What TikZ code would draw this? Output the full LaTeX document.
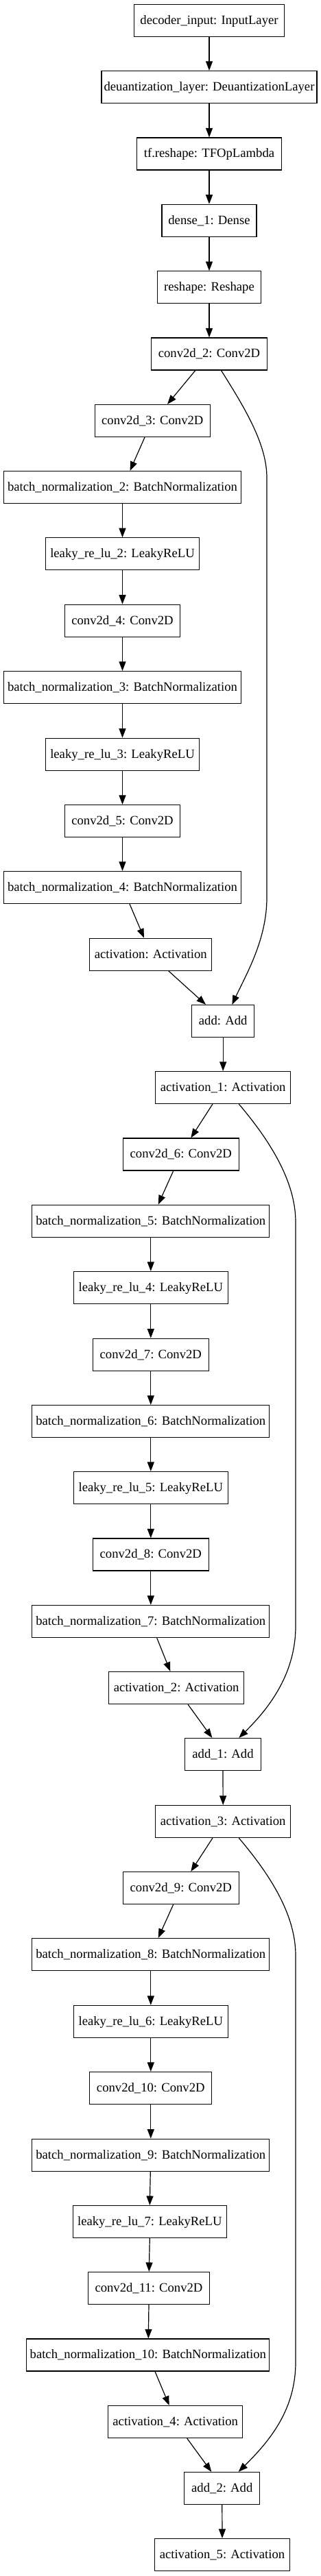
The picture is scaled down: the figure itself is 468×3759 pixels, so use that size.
\documentclass[tikz,border=0pt]{standalone}
\usepackage{fontspec}
\usetikzlibrary{arrows.meta}
\newfontfamily\laytimes{Liberation Serif}
\newcommand\layfont{\laytimes\fontsize{18.67pt}{22pt}\selectfont}
\tikzset{
  layer/.style={draw=black, line width=1.2pt, minimum height=47pt, inner xsep=2pt, inner ysep=0pt,
                text height=14pt, text depth=3.4pt, font=\layfont},
  edge/.style={-{Triangle[length=13.5pt,width=10pt]}, line width=1.2pt},
}
\begin{document}
\begin{tikzpicture}[x=1pt,y=-1pt]
\useasboundingbox[fill=white] (0,0) rectangle (468,3759);
% nodes
\node[layer, minimum width=219pt] (inp)   at (305,29.7)   {decoder\_input: InputLayer};
\node[layer, minimum width=314pt] (deq)   at (305,127)    {deuantization\_layer: DeuantizationLayer};
\node[layer, minimum width=211pt] (tfr)   at (305,224.5)  {tf.reshape: TFOpLambda};
\node[layer, minimum width=138pt] (dense) at (305,321.8)  {dense\_1: Dense};
\node[layer, minimum width=151pt] (resh)  at (305,419.3)  {reshape: Reshape};
\node[layer, minimum width=168.7pt] (c2)  at (305,516.5)  {conv2d\_2: Conv2D};
\node[layer, minimum width=168.3pt] (c3)  at (222.3,614)  {conv2d\_3: Conv2D};
\node[layer, minimum width=346.3pt] (bn2)  at (178.5,711)  {batch\_normalization\_2: BatchNormalization};
\node[layer, minimum width=224.6pt] (lr2)  at (178.5,808.3) {leaky\_re\_lu\_2: LeakyReLU};
\node[layer, minimum width=168.6pt] (c4)   at (178.5,905.7) {conv2d\_4: Conv2D};
\node[layer, minimum width=346.3pt] (bn3)  at (178.5,1003)  {batch\_normalization\_3: BatchNormalization};
\node[layer, minimum width=224.6pt] (lr3)  at (178.5,1100.7) {leaky\_re\_lu\_3: LeakyReLU};
\node[layer, minimum width=168.6pt] (c5)   at (178.5,1198)  {conv2d\_5: Conv2D};
\node[layer, minimum width=346.3pt] (bn4)  at (178.5,1295)  {batch\_normalization\_4: BatchNormalization};
\node[layer, minimum width=178pt]   (act)  at (219.8,1392.7) {activation: Activation};
\node[layer, minimum width=91.3pt]  (add)  at (325.2,1490)  {add: Add};
\node[layer, minimum width=196.7pt] (act1) at (325.2,1587)  {activation\_1: Activation};
\node[layer, minimum width=168.7pt] (c6)   at (263.8,1684.5) {conv2d\_6: Conv2D};
\node[layer, minimum width=346pt]   (bn5)  at (219.8,1781.7) {batch\_normalization\_5: BatchNormalization};
\node[layer, minimum width=225pt]   (lr4)  at (219.8,1879)  {leaky\_re\_lu\_4: LeakyReLU};
\node[layer, minimum width=169pt]   (c7)   at (219.8,1976.7) {conv2d\_7: Conv2D};
\node[layer, minimum width=346pt]   (bn6)  at (219.8,2074)  {batch\_normalization\_6: BatchNormalization};
\node[layer, minimum width=225pt]   (lr5)  at (219.8,2171)  {leaky\_re\_lu\_5: LeakyReLU};
\node[layer, minimum width=169pt]   (c8)   at (219.8,2268.5) {conv2d\_8: Conv2D};
\node[layer, minimum width=346pt]   (bn7)  at (219.8,2366)  {batch\_normalization\_7: BatchNormalization};
\node[layer, minimum width=196.7pt] (act2) at (257.2,2463)  {activation\_2: Activation};
\node[layer, minimum width=110.4pt] (add1) at (325,2560)    {add\_1: Add};
\node[layer, minimum width=196.7pt] (act3) at (325.2,2658)  {activation\_3: Activation};
\node[layer, minimum width=168.7pt] (c9)   at (263.8,2755)  {conv2d\_9: Conv2D};
\node[layer, minimum width=346pt]   (bn8)  at (219.8,2852)  {batch\_normalization\_8: BatchNormalization};
\node[layer, minimum width=225pt]   (lr6)  at (219.8,2950)  {leaky\_re\_lu\_6: LeakyReLU};
\node[layer, minimum width=178pt]   (c10)  at (219.8,3047)  {conv2d\_10: Conv2D};
\node[layer, minimum width=346pt]   (bn9)  at (219.8,3144.7) {batch\_normalization\_9: BatchNormalization};
\node[layer, minimum width=224.3pt] (lr7)  at (218.3,3242)  {leaky\_re\_lu\_7: LeakyReLU};
\node[layer, minimum width=177.6pt] (c11)  at (217,3339)    {conv2d\_11: Conv2D};
\node[layer, minimum width=354pt]   (bn10) at (215.8,3436.5) {batch\_normalization\_10: BatchNormalization};
\node[layer, minimum width=196.3pt] (act4) at (255.7,3534)  {activation\_4: Activation};
\node[layer, minimum width=110pt]   (add2) at (323.8,3631)  {add\_2: Add};
\node[layer, minimum width=196.4pt] (act5) at (324,3728)    {activation\_5: Activation};
% straight edges
\draw[edge] (inp.south) -- (deq.north);
\draw[edge] (deq.south) -- (tfr.north);
\draw[edge] (tfr.south) -- (dense.north);
\draw[edge] (dense.south) -- (resh.north);
\draw[edge] (resh.south) -- (c2.north);
\draw[edge] ([xshift=-20.2pt]c2.south) -- ([xshift=21.7pt]c3.north);
\draw[edge] ([xshift=-11.3pt]c3.south) -- ([xshift=11pt]bn2.north);
\draw[edge] (bn2.south) -- (lr2.north);
\draw[edge] (lr2.south) -- (c4.north);
\draw[edge] (c4.south) -- (bn3.north);
\draw[edge] (bn3.south) -- (lr3.north);
\draw[edge] (lr3.south) -- (c5.north);
\draw[edge] (c5.south) -- (bn4.north);
\draw[edge] ([xshift=10.5pt]bn4.south) -- ([xshift=-9.8pt]act.north);
\draw[edge] ([xshift=25.9pt]act.south) -- ([xshift=-25.2pt]add.north);
\draw[edge] (add.south) -- (act1.north);
\draw[edge] ([xshift=-15.2pt]act1.south) -- ([xshift=14.5pt]c6.north);
\draw[edge] ([xshift=-11.1pt]c6.south) -- ([xshift=10.9pt]bn5.north);
\draw[edge] (bn5.south) -- (lr4.north);
\draw[edge] (lr4.south) -- (c7.north);
\draw[edge] (c7.south) -- (bn6.north);
\draw[edge] (bn6.south) -- (lr5.north);
\draw[edge] (lr5.south) -- (c8.north);
\draw[edge] (c8.south) -- (bn7.north);
\draw[edge] ([xshift=8.9pt]bn7.south) -- ([xshift=-8.9pt]act2.north);
\draw[edge] ([xshift=16.8pt]act2.south) -- ([xshift=-15.7pt]add1.north);
\draw[edge] (add1.south) -- (act3.north);
\draw[edge] ([xshift=-15.2pt]act3.south) -- ([xshift=14.5pt]c9.north);
\draw[edge] ([xshift=-11.1pt]c9.south) -- ([xshift=10.9pt]bn8.north);
\draw[edge] (bn8.south) -- (lr6.north);
\draw[edge] (lr6.south) -- (c10.north);
\draw[edge] (c10.south) -- (bn9.north);
\draw[edge] ([xshift=-0.5pt]bn9.south) -- (lr7.north);
\draw[edge] (lr7.south) -- ([xshift=0.3pt]c11.north);
\draw[edge] (c11.south) -- ([xshift=0.5pt]bn10.north);
\draw[edge] ([xshift=10.2pt]bn10.south) -- ([xshift=-9pt]act4.north);
\draw[edge] ([xshift=17pt]act4.south) -- ([xshift=-15.5pt]add2.north);
\draw[edge] (add2.south) -- (act5.north);
% skip connections
\draw[edge] ([xshift=17.5pt]c2.south) .. controls (360,600) and (389,650) .. (389,697)
  -- (389,1310) .. controls (389,1370) and (360,1420) .. ([xshift=13.1pt]add.north);
\draw[edge] ([xshift=23.1pt]act1.south) .. controls (388,1658) and (431,1720) .. (431,1783)
  -- (431,2373) .. controls (431,2440) and (395,2490) .. ([xshift=23.3pt]add1.north);
\draw[edge] ([xshift=23.1pt]act3.south) .. controls (388,2729) and (431,2790) .. (431,2853)
  -- (431,3447) .. controls (431,3515) and (395,3560) .. ([xshift=23.9pt]add2.north);
\end{tikzpicture}
\end{document}
